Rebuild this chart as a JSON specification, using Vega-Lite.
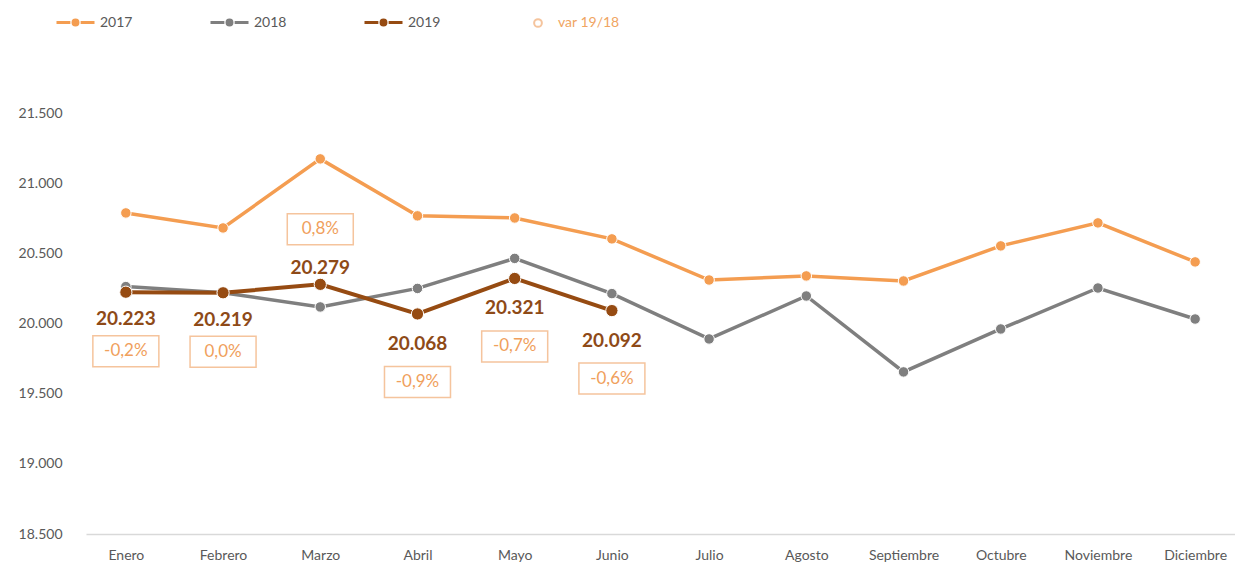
{
  "$schema": "https://vega.github.io/schema/vega-lite/v6.json",
  "width": 1149,
  "height": 421,
  "autosize": {"type": "none"},
  "padding": {"left": 86, "top": 113, "right": 0, "bottom": 31},
  "background": "white",
  "config": {
    "view": {"stroke": null},
    "font": "Lato",
    "locale": {"number": {"decimal": ",", "thousands": ".", "grouping": [3], "currency": ["", "€"], "minus": "-", "percent": "%"}},
    "legend": {"padding": 0}
  },
  "datasets": {
    "series": [
      {"mes": "Enero", "anio": "2017", "valor": 20788},
      {"mes": "Febrero", "anio": "2017", "valor": 20681},
      {"mes": "Marzo", "anio": "2017", "valor": 21173},
      {"mes": "Abril", "anio": "2017", "valor": 20767},
      {"mes": "Mayo", "anio": "2017", "valor": 20752},
      {"mes": "Junio", "anio": "2017", "valor": 20603},
      {"mes": "Julio", "anio": "2017", "valor": 20310},
      {"mes": "Agosto", "anio": "2017", "valor": 20339},
      {"mes": "Septiembre", "anio": "2017", "valor": 20303},
      {"mes": "Octubre", "anio": "2017", "valor": 20553},
      {"mes": "Noviembre", "anio": "2017", "valor": 20717},
      {"mes": "Diciembre", "anio": "2017", "valor": 20439},
      {"mes": "Enero", "anio": "2018", "valor": 20263},
      {"mes": "Febrero", "anio": "2018", "valor": 20219},
      {"mes": "Marzo", "anio": "2018", "valor": 20118},
      {"mes": "Abril", "anio": "2018", "valor": 20250},
      {"mes": "Mayo", "anio": "2018", "valor": 20464},
      {"mes": "Junio", "anio": "2018", "valor": 20213},
      {"mes": "Julio", "anio": "2018", "valor": 19890},
      {"mes": "Agosto", "anio": "2018", "valor": 20196},
      {"mes": "Septiembre", "anio": "2018", "valor": 19655},
      {"mes": "Octubre", "anio": "2018", "valor": 19961},
      {"mes": "Noviembre", "anio": "2018", "valor": 20253},
      {"mes": "Diciembre", "anio": "2018", "valor": 20032},
      {"mes": "Enero", "anio": "2019", "valor": 20223},
      {"mes": "Febrero", "anio": "2019", "valor": 20219},
      {"mes": "Marzo", "anio": "2019", "valor": 20279},
      {"mes": "Abril", "anio": "2019", "valor": 20068},
      {"mes": "Mayo", "anio": "2019", "valor": 20321},
      {"mes": "Junio", "anio": "2019", "valor": 20092}
    ],
    "var": [
      {"mes": "Enero", "valor": 20223, "var": -0.002, "grupo": "A"},
      {"mes": "Febrero", "valor": 20219, "var": 0.0, "grupo": "A"},
      {"mes": "Marzo", "valor": 20279, "var": 0.008, "grupo": "C"},
      {"mes": "Abril", "valor": 20068, "var": -0.009, "grupo": "B"},
      {"mes": "Mayo", "valor": 20321, "var": -0.007, "grupo": "B"},
      {"mes": "Junio", "valor": 20092, "var": -0.006, "grupo": "B"}
    ]
  },
  "encoding": {
    "x": {
      "field": "mes", "type": "nominal",
      "scale": {"type": "point", "padding": 0.41, "domain": ["Enero", "Febrero", "Marzo", "Abril", "Mayo", "Junio", "Julio", "Agosto", "Septiembre", "Octubre", "Noviembre", "Diciembre"]},
      "axis": {"title": null, "labelAngle": 0, "ticks": false, "domainColor": "#D9D9D9", "domainWidth": 1.5, "labelFontSize": 14, "labelColor": "#595959", "labelPadding": 14, "grid": false}
    },
    "y": {
      "field": "valor", "type": "quantitative",
      "scale": {"domain": [18500, 21500], "zero": false, "nice": false},
      "axis": {"title": null, "values": [18500, 19000, 19500, 20000, 20500, 21000, 21500], "format": ",.0f", "domain": false, "ticks": false, "grid": false, "labelFontSize": 14, "labelColor": "#595959", "labelPadding": 24}
    }
  },
  "layer": [
    {
      "data": {"name": "series"},
      "transform": [{"filter": "datum.anio !== '2019'"}],
      "mark": {"type": "line", "strokeWidth": 3.5},
      "encoding": {
        "color": {
          "field": "anio", "type": "nominal",
          "scale": {"domain": ["2017", "2018", "2019"], "range": ["#F49D51", "#7F7F7F", "#964B12"]},
          "legend": {
            "title": null, "orient": "none", "direction": "horizontal", "legendX": -31, "legendY": -111,
            "symbolType": "M-1,0H-0.27M0.27,0H1M-0.13,0A0.13,0.13 0 1,1 0.13,0A0.13,0.13 0 1,1 -0.13,0",
            "symbolSize": 1444, "symbolStrokeWidth": 3, "labelFontSize": 14, "labelColor": "#595959",
            "labelOffset": 4, "columnPadding": 71
          }
        }
      }
    },
    {
      "data": {"name": "series"},
      "transform": [{"filter": "datum.anio === '2019'"}],
      "mark": {"type": "line", "strokeWidth": 4},
      "encoding": {"color": {"field": "anio", "type": "nominal"}}
    },
    {
      "data": {"name": "series"},
      "transform": [{"filter": "datum.anio !== '2019'"}],
      "mark": {"type": "circle", "size": 110, "opacity": 1, "stroke": "white", "strokeWidth": 1},
      "encoding": {"color": {"field": "anio", "type": "nominal"}}
    },
    {
      "data": {"name": "series"},
      "transform": [{"filter": "datum.anio === '2019'"}],
      "mark": {"type": "circle", "size": 150, "opacity": 1, "stroke": "white", "strokeWidth": 1},
      "encoding": {"color": {"field": "anio", "type": "nominal"}}
    },
    {
      "data": {"name": "var"},
      "transform": [{"filter": "datum.grupo === 'A'"}],
      "layer": [
        {"mark": {"type": "text", "dy": 27, "fontSize": 19, "fontWeight": "bold", "color": "#8E4A17"}, "encoding": {"text": {"field": "valor", "type": "quantitative", "format": ",.0f"}}},
        {"mark": {"type": "point", "shape": "M-1,-0.47H1V0.47H-1Z", "size": 4356, "filled": false, "strokeWidth": 1.5, "yOffset": 59}, "encoding": {"stroke": {"datum": "var 19/18", "type": "nominal", "scale": {"range": ["#F2AC74"]}, "legend": {"title": null, "orient": "none", "legendX": 445, "legendY": -97, "symbolType": "circle", "symbolSize": 60, "symbolStrokeWidth": 2, "symbolFillColor": "transparent", "symbolStrokeColor": "#E8893E", "labelFontSize": 14, "labelColor": "#F0A562", "labelOffset": 13}}}},
        {"mark": {"type": "text", "dy": 59, "fontSize": 17, "color": "#F0A05C"}, "encoding": {"text": {"field": "var", "type": "quantitative", "format": ".1%"}}}
      ]
    },
    {
      "data": {"name": "var"},
      "transform": [{"filter": "datum.grupo === 'B'"}],
      "layer": [
        {"mark": {"type": "text", "dy": 30, "fontSize": 19, "fontWeight": "bold", "color": "#8E4A17"}, "encoding": {"text": {"field": "valor", "type": "quantitative", "format": ",.0f"}}},
        {"mark": {"type": "point", "shape": "M-1,-0.47H1V0.47H-1Z", "size": 4356, "filled": false, "strokeWidth": 1.5, "yOffset": 68}, "encoding": {"stroke": {"datum": "var 19/18", "type": "nominal"}}},
        {"mark": {"type": "text", "dy": 68, "fontSize": 17, "color": "#F0A05C"}, "encoding": {"text": {"field": "var", "type": "quantitative", "format": ".1%"}}}
      ]
    },
    {
      "data": {"name": "var"},
      "transform": [{"filter": "datum.grupo === 'C'"}],
      "layer": [
        {"mark": {"type": "text", "dy": -16, "fontSize": 19, "fontWeight": "bold", "color": "#8E4A17"}, "encoding": {"text": {"field": "valor", "type": "quantitative", "format": ",.0f"}}},
        {"mark": {"type": "point", "shape": "M-1,-0.47H1V0.47H-1Z", "size": 4356, "filled": false, "strokeWidth": 1.5, "yOffset": -55}, "encoding": {"stroke": {"datum": "var 19/18", "type": "nominal"}}},
        {"mark": {"type": "text", "dy": -55, "fontSize": 17, "color": "#F0A05C"}, "encoding": {"text": {"field": "var", "type": "quantitative", "format": ".1%"}}}
      ]
    }
  ]
}
